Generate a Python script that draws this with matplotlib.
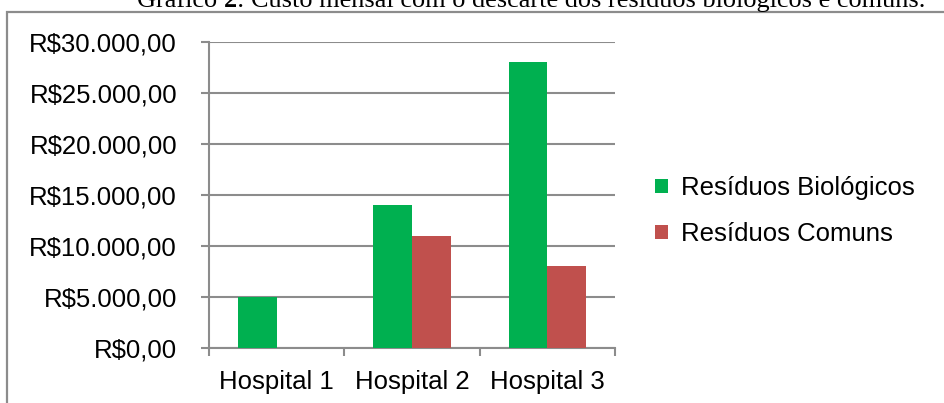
import matplotlib
matplotlib.use("Agg")
import matplotlib.pyplot as plt
from matplotlib.patches import Patch, Rectangle
from matplotlib.transforms import offset_copy
import numpy as np

categories = ["Hospital 1", "Hospital 2", "Hospital 3"]
biologicos = [5000, 14000, 28000]
comuns = [0, 11000, 8000]
series_names = ["Resíduos Biológicos", "Resíduos Comuns"]
yticks = [0, 5000, 10000, 15000, 20000, 25000, 30000]
ytick_labels = ["R$0,00", "R$5.000,00", "R$10.000,00", "R$15.000,00",
                "R$20.000,00", "R$25.000,00", "R$30.000,00"]
title_parts = ["Gráfico ", "2", ": Custo mensal com o descarte dos resíduos biológicos e comuns."]

GREEN = "#00B050"
RED = "#C0504D"
GRAY = "#8C8C8C"

W, H = 944, 403
fig = plt.figure(figsize=(W / 100, H / 100), dpi=100)
fig.patch.set_facecolor("white")

# outer chart frame (extends beyond right/bottom of picture)
fig.patches.append(Rectangle((7 / W, -0.1), 1.2, 1 - 12 / H + 0.1,
                             transform=fig.transFigure, fill=False,
                             edgecolor=GRAY, linewidth=1.6, zorder=0))

# title (clipped at top), with bold "2"
renderer = fig.canvas.get_renderer()
tx = 137 / W
ty = 1 - 7 / H
trans = fig.transFigure
offset = 0.0
for i, part in enumerate(title_parts):
    t = fig.text(tx, ty, part, ha="left", va="baseline", fontsize=18.9,
                 family="Liberation Serif", fontweight="bold" if i == 1 else "normal",
                 transform=offset_copy(trans, fig=fig, x=offset, y=0, units="dots"))
    ext = t.get_window_extent(renderer=renderer)
    offset += ext.width

left, right, top, bottom = 209 / W, 615 / W, 1 - 42 / H, 1 - 348 / H
ax = fig.add_axes([left, bottom, right - left, top - bottom])

x = np.arange(len(categories))
bw = 0.286
ax.bar(x - 0.143, biologicos, width=bw, color=GREEN, zorder=3)
ax.bar(x + 0.143, comuns, width=bw, color=RED, zorder=3)

ax.set_xlim(-0.5, 2.5)
ax.set_ylim(0, 30000)
ax.set_yticks(yticks)
ax.set_yticklabels(ytick_labels, family="Liberation Sans", fontsize=18.5)
ax.grid(axis="y", color=GRAY, linewidth=1.5, zorder=0)
ax.set_axisbelow(True)

ax.set_xticks([-0.5, 0.5, 1.5, 2.5])
ax.set_xticklabels([])
ax.set_xticks(x, minor=True)
ax.set_xticklabels(categories, minor=True, family="Liberation Sans", fontsize=18.5)
ax.tick_params(axis="x", which="major", direction="out", length=5.5, width=1.5, color=GRAY)
ax.tick_params(axis="x", which="minor", length=0, pad=16)
ax.tick_params(axis="y", direction="out", length=6, width=1.5, color=GRAY, pad=17)

for s in ["top", "right"]:
    ax.spines[s].set_visible(False)
for s in ["left", "bottom"]:
    ax.spines[s].set_color(GRAY)
    ax.spines[s].set_linewidth(1.5)

handles = [Patch(facecolor=GREEN, edgecolor="none"), Patch(facecolor=RED, edgecolor="none")]
fig.legend(handles, series_names, loc="center left",
           bbox_to_anchor=(655 / W, 1 - 211 / H), frameon=False,
           prop={"family": "Liberation Sans", "size": 18.5},
           handlelength=0.5, handleheight=0.5, handletextpad=0.5,
           labelspacing=0.86, borderpad=0, borderaxespad=0)

fig.savefig("out.png", dpi=100)
